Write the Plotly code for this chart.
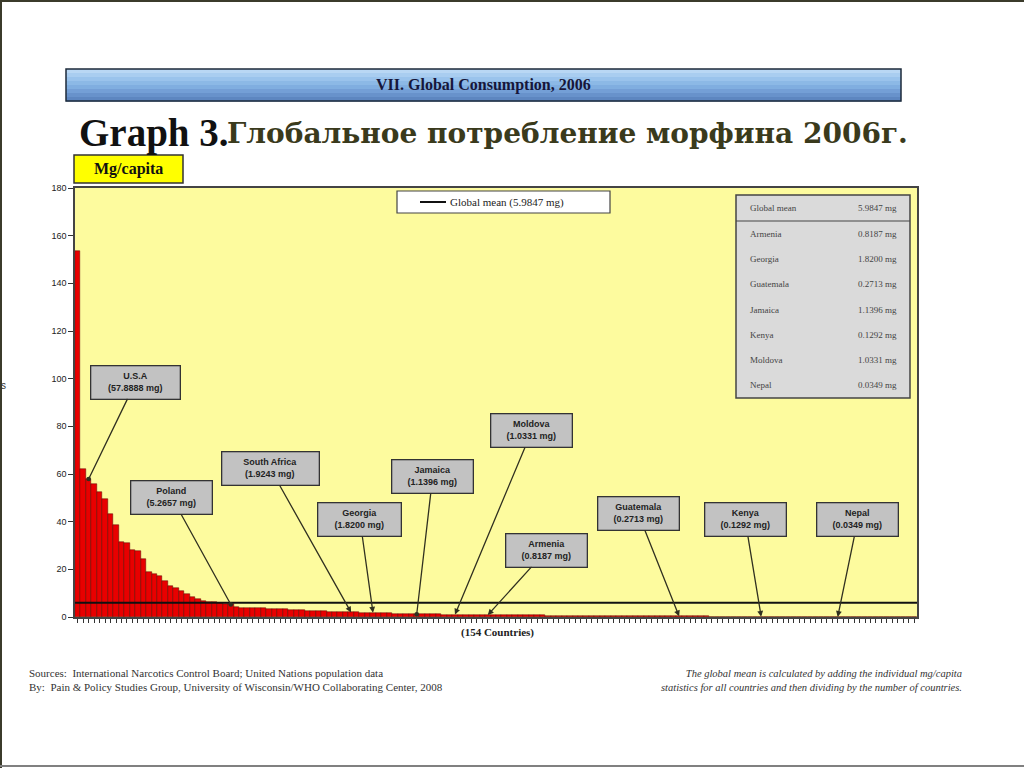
import plotly.graph_objects as go

# ---------------- data ----------------
ranks = list(range(1, 155))
values = [
    153.5, 62.0, 57.8888, 56.0, 52.3, 49.6, 43.3, 38.5, 31.4, 30.9, 28.1, 27.8, 24.3, 18.9, 18.2,
    17.2, 15.2, 13.0, 12.0, 10.9, 9.5, 8.5, 7.7, 6.7, 6.3, 6.1, 5.9, 5.6, 5.2657,
    4.1, 3.9, 3.9, 3.8, 3.6, 3.6, 3.5, 3.3, 3.2, 3.2, 3.0, 2.9, 2.9, 2.7, 2.6, 2.5, 2.4, 2.3, 2.2, 2.1, 2.0,
    1.9243,
    1.90, 1.88, 1.85,
    1.8200,
    1.71, 1.60, 1.48, 1.39, 1.30, 1.22, 1.16,
    1.1396,
    1.12, 1.10, 1.09, 1.07, 1.05, 1.04,
    1.0331,
    1.00, 0.96, 0.93, 0.88, 0.85,
    0.8187,
    0.80, 0.78, 0.77, 0.75, 0.73, 0.71, 0.70, 0.68, 0.66, 0.64, 0.62, 0.61, 0.59, 0.57, 0.55, 0.53, 0.51,
    0.50, 0.48, 0.46, 0.44, 0.43, 0.41, 0.40, 0.38, 0.37, 0.35, 0.34, 0.33, 0.31, 0.30, 0.29, 0.285, 0.28,
    0.2713,
    0.26, 0.25, 0.24, 0.23, 0.22, 0.21, 0.20, 0.19, 0.18, 0.17, 0.16, 0.15, 0.14, 0.135,
    0.1292,
    0.12, 0.11, 0.10, 0.095, 0.09, 0.08, 0.07, 0.065, 0.06, 0.05, 0.045, 0.04, 0.037,
    0.0349,
    0.030, 0.027, 0.024, 0.020, 0.018, 0.015, 0.012, 0.010, 0.008, 0.006, 0.005, 0.003, 0.002, 0.001,
]
assert len(values) == 154

global_mean = 5.9847
y_ticks = [0, 20, 40, 60, 80, 100, 120, 140, 160, 180]

label_countries = ["U.S.A", "Poland", "South Africa", "Georgia", "Jamaica", "Moldova",
                   "Armenia", "Guatemala", "Kenya", "Nepal"]
label_ranks = [3, 29, 51, 55, 63, 70, 76, 111, 126, 140]
label_texts = ["57.8888 mg", "5.2657 mg", "1.9243 mg", "1.8200 mg", "1.1396 mg", "1.0331 mg",
               "0.8187 mg", "0.2713 mg", "0.1292 mg", "0.0349 mg"]

table_names = ["Global mean", "Armenia", "Georgia", "Guatemala", "Jamaica", "Kenya", "Moldova", "Nepal"]
table_values = ["5.9847 mg", "0.8187 mg", "1.8200 mg", "0.2713 mg", "1.1396 mg", "0.1292 mg",
                "1.0331 mg", "0.0349 mg"]

# ---------------- layout helpers (pixel -> paper) ----------------
L, R, T, B = 75, 917, 188, 617
W, H = R - L, B - T
def px(x): return (x - L) / W
def py(y): return (B - y) / H

SERIF = "Liberation Serif"
SANS = "Liberation Sans"

fig = go.Figure()
fig.add_trace(go.Bar(
    x=ranks, y=values, marker=dict(color="#E80000", line=dict(color="#5A0000", width=0.5)),
    showlegend=False, hoverinfo="y"))
fig.add_trace(go.Scatter(
    x=[ranks[0] - 0.5, ranks[-1] + 0.5], y=[global_mean, global_mean], mode="lines",
    line=dict(color="#111111", width=2), showlegend=False, hoverinfo="skip"))

shapes = []
annotations = []

def text_at(x, y, text, font, xanchor="center", yanchor="middle", align="center"):
    annotations.append(dict(xref="paper", yref="paper", x=px(x), y=py(y), xanchor=xanchor, yanchor=yanchor,
                            showarrow=False, text=text, font=font, align=align))

# slide frame
shapes += [
    dict(type="line", xref="paper", yref="paper", x0=px(1), x1=px(1), y0=py(0), y1=py(768),
         line=dict(color="#3b3b2b", width=2)),
    dict(type="line", xref="paper", yref="paper", x0=px(0), x1=px(1024), y0=py(1), y1=py(1),
         line=dict(color="#3b3b2b", width=2)),
    dict(type="line", xref="paper", yref="paper", x0=px(0), x1=px(1024), y0=py(766), y1=py(766),
         line=dict(color="#808080", width=2)),
]

# header bar with gradient
grad = ["#B9D7F4", "#A9CDF0", "#9AC3EC", "#8CB9E6", "#80AEE0", "#749FD6", "#6892CB", "#5D86C0"]
top, bot = 69, 101
step = (bot - top) / len(grad)
for i, c in enumerate(grad):
    shapes.append(dict(type="rect", xref="paper", yref="paper", x0=px(66), x1=px(901),
                       y0=py(top + i * step), y1=py(top + (i + 1) * step + 0.5),
                       fillcolor=c, line=dict(width=0), layer="below"))
shapes.append(dict(type="rect", xref="paper", yref="paper", x0=px(66), x1=px(901), y0=py(top), y1=py(bot),
                   line=dict(color="#1c2a3a", width=1.5)))
text_at(483, 85, "<b>VII. Global Consumption, 2006</b>", dict(family=SERIF, size=16, color="#16163a"))

# titles
text_at(77, 133, "<b>Graph 3.</b>", dict(family=SERIF, size=39, color="#111111"), xanchor="left")
text_at(225, 133, "<b>Глобальное потребление морфина 2006г.</b>",
        dict(family="DejaVu Serif", size=28, color="#3a3a1c"), xanchor="left")

# Mg/capita box
shapes.append(dict(type="rect", xref="paper", yref="paper", x0=px(74), x1=px(183), y0=py(155), y1=py(183),
                   fillcolor="#FFFF00", line=dict(color="#333333", width=1.5)))
text_at(128, 169, "<b>Mg/capita</b>", dict(family=SERIF, size=16, color="#111111"))

# legend box
shapes.append(dict(type="rect", xref="paper", yref="paper", x0=px(397), x1=px(610), y0=py(191), y1=py(213),
                   fillcolor="#FFFFFF", line=dict(color="#444444", width=1.2)))
shapes.append(dict(type="line", xref="paper", yref="paper", x0=px(420), x1=px(446), y0=py(202), y1=py(202),
                   line=dict(color="#111111", width=2)))
text_at(448, 202, "Global mean (" + table_values[0] + ")", dict(family=SERIF, size=11, color="#222222"),
        xanchor="left")

# table box
shapes.append(dict(type="rect", xref="paper", yref="paper", x0=px(736), x1=px(910), y0=py(195), y1=py(398),
                   fillcolor="#DADADA", line=dict(color="#444444", width=1.5)))
shapes.append(dict(type="line", xref="paper", yref="paper", x0=px(736), x1=px(910), y0=py(221), y1=py(221),
                   line=dict(color="#444444", width=1.2)))
row_y = [208, 234, 259, 284, 310, 335, 360, 385]
for name, val, ry in zip(table_names, table_values, row_y):
    text_at(748, ry, name, dict(family=SERIF, size=9, color="#444444"), xanchor="left")
    text_at(899, ry, val, dict(family=SERIF, size=9, color="#444444"), xanchor="right")

# callouts
offsets = [(47, -97), (-59, -107), (-81, -144), (-13, -93), (16, -138),
           (77, -184), (59, -65), (-41, -103), (-16, -97), (20, -97)]
widths = [84, 76, 92, 78, 76, 76, 76, 76, 76, 76]
heads = [6, 6, 2, 2, 6, 2, 2, 2, 2, 2]
for name, rk, txt, (ax, ay), w, hd in zip(label_countries, label_ranks, label_texts, offsets, widths, heads):
    annotations.append(dict(
        x=rk, y=values[rk - 1], xref="x", yref="y", ax=ax, ay=ay,
        text="<b>" + name + "<br>(" + txt + ")</b>", showarrow=True,
        arrowhead=hd, arrowsize=0.9, arrowwidth=1.3, arrowcolor="#303020",
        bgcolor="#C2C2C2", bordercolor="#333333", borderwidth=1.3, borderpad=2,
        width=w, height=28, align="center",
        font=dict(family=SANS, size=9, color="#222222")))

# x axis title
text_at(497, 632, "<b>(154 Countries)</b>", dict(family=SERIF, size=11, color="#222222"))
# cut-off axis label at left edge
text_at(3, 385, "s", dict(family=SANS, size=10, color="#333333"))

# footers
text_at(27, 680,
        "Sources:  International Narcotics Control Board; United Nations population data<br>"
        "By:  Pain &amp; Policy Studies Group, University of Wisconsin/WHO Collaborating Center, 2008",
        dict(family=SERIF, size=11, color="#333333"), xanchor="left", align="left")
text_at(964, 680,
        "<i>The global mean is calculated by adding the individual mg/capita<br>"
        "statistics for all countries and then dividing by the number of countries.</i>",
        dict(family=SERIF, size=10.5, color="#333333"), xanchor="right", align="right")

fig.update_layout(
    width=1024, height=768, autosize=False,
    margin=dict(l=L, r=1024 - R, t=T, b=768 - B),
    paper_bgcolor="#FFFFFF", plot_bgcolor="#FDFB9E",
    bargap=0, showlegend=False,
    shapes=shapes, annotations=annotations,
    xaxis=dict(range=[ranks[0] - 0.5, ranks[-1] + 0.5], tickmode="linear", tick0=1, dtick=1,
               ticks="outside", ticklen=4, tickwidth=1, tickcolor="#333333", showticklabels=False,
               showline=True, linecolor="#444444", linewidth=1.5, mirror=True, showgrid=False, zeroline=False),
    yaxis=dict(range=[0, 180], tickvals=y_ticks, ticks="outside", ticklen=5, tickcolor="#333333",
               tickfont=dict(family=SANS, size=9, color="#222222"),
               showline=True, linecolor="#444444", linewidth=1.5, mirror=True, showgrid=False, zeroline=False),
)

fig.write_html("out.html", config={"displayModeBar": False},
               post_script="document.body.style.margin='0';document.body.style.overflow='hidden';")
